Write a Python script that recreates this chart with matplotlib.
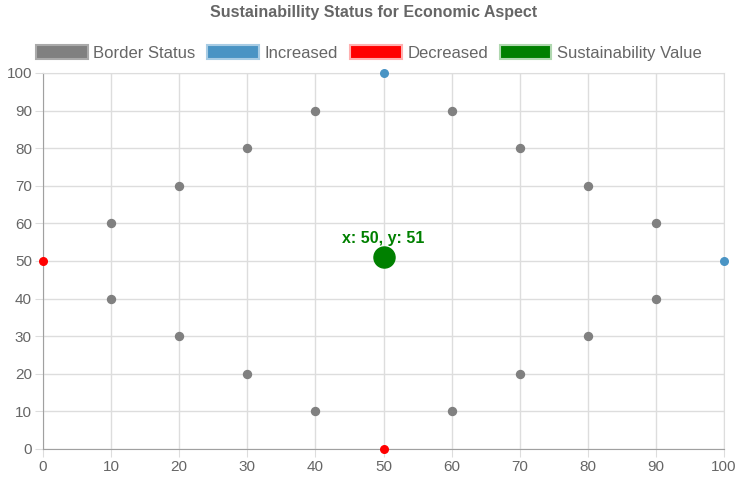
import matplotlib.pyplot as plt
from matplotlib.patches import Patch

plt.rcParams['font.family'] = ['Liberation Sans', 'DejaVu Sans']

# border status points
border_x = [10, 20, 30, 40, 60, 70, 80, 90, 90, 80, 70, 60, 40, 30, 20, 10]
border_y = [60, 70, 80, 90, 90, 80, 70, 60, 40, 30, 20, 10, 10, 20, 30, 40]
inc_x = [50, 100]
inc_y = [100, 50]
dec_x = [0, 50]
dec_y = [50, 0]
sus_x = [50]
sus_y = [51]

x_ticks = list(range(0, 101, 10))
y_ticks = list(range(0, 101, 10))

gray = '#808080'
blue = '#4a94c4'
red = '#ff0000'
green = '#008000'
txt = '#666666'

fig = plt.figure(figsize=(7.47, 4.78), dpi=100)
ax = fig.add_axes([43 / 747, 29 / 478, (724 - 43) / 747, (449 - 73) / 478])

ax.scatter(border_x, border_y, s=33, c=gray, zorder=3, clip_on=False)
ax.scatter(inc_x, inc_y, s=30, c=blue, zorder=3, clip_on=False)
ax.scatter(dec_x, dec_y, s=30, c=red, zorder=3, clip_on=False)
ax.scatter(sus_x, sus_y, s=230, c=green, zorder=4, clip_on=False)

for x, y in zip(sus_x, sus_y):
    ax.annotate(f'x: {x}, y: {y}', (x, y), xytext=(0, 8), textcoords='offset points',
                ha='center', va='bottom', color=green, fontsize=11.5, fontweight='bold')

ax.set_xlim(0, 100)
ax.set_ylim(0, 100)
ax.set_xticks(x_ticks)
ax.set_yticks(y_ticks)
ax.grid(True, color='#dddddd', linewidth=1)
ax.set_axisbelow(True)
for side in ['top', 'right']:
    ax.spines[side].set_color('#dddddd')
for side in ['left', 'bottom']:
    ax.spines[side].set_color('#a0a0a0')
ax.tick_params(colors='#dddddd', labelcolor=txt, labelsize=11, length=6, pad=2)

fig.text(0.5, 1 - 12 / 478, 'Sustainabillity Status for Economic Aspect', ha='center', va='center',
         fontsize=11.5, fontweight='bold', color=txt)

handles = [
    Patch(facecolor=gray, edgecolor='#aaaaaa', linewidth=1.5, label='Border Status'),
    Patch(facecolor=blue, edgecolor='#a8cce4', linewidth=1.5, label='Increased'),
    Patch(facecolor=red, edgecolor='#ffb0b0', linewidth=1.5, label='Decreased'),
    Patch(facecolor=green, edgecolor='#b0d8b0', linewidth=1.5, label='Sustainability Value'),
]
leg = fig.legend(handles=handles, loc='center', bbox_to_anchor=(0.494, 1 - 53 / 478), ncol=4,
                 frameon=False, fontsize=12, handlelength=3.1, handleheight=0.9,
                 handletextpad=0.35, columnspacing=0.7, labelcolor=txt)

fig.savefig('out.png', dpi=100)
